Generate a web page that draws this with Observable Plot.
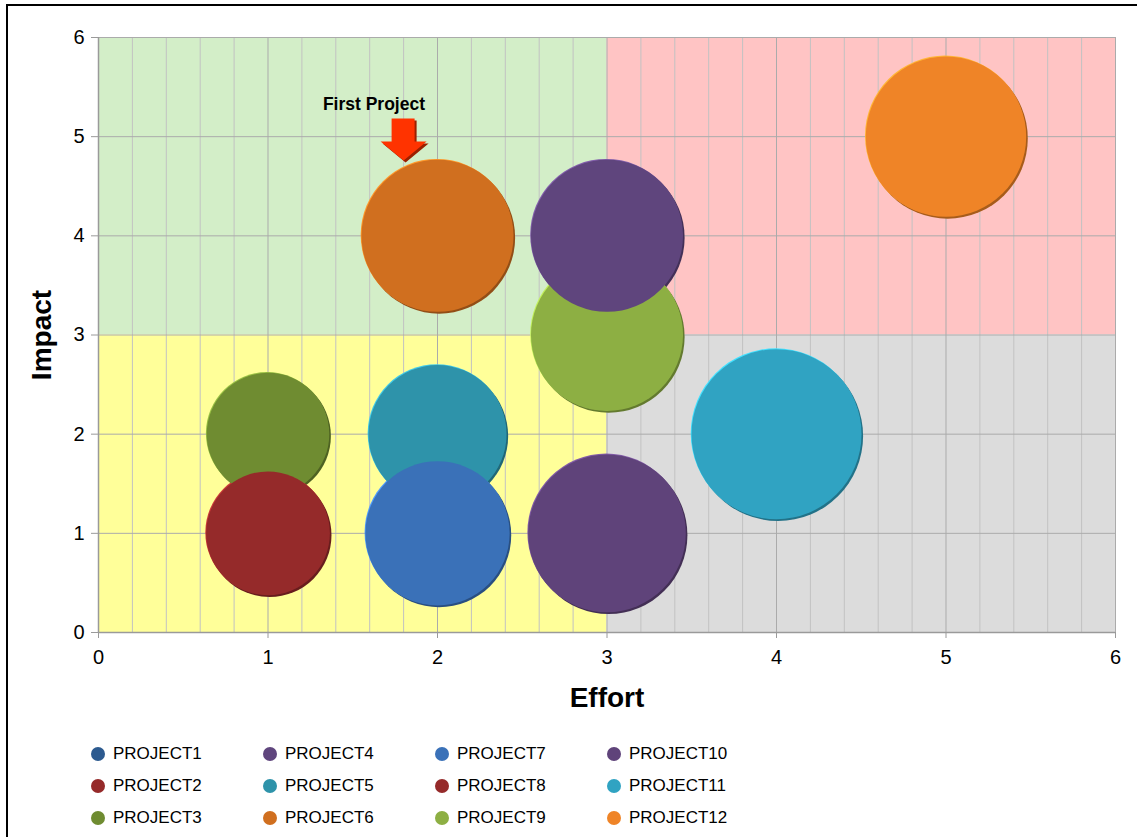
<!DOCTYPE html>
<html><head><meta charset="utf-8">
<script src="https://cdn.jsdelivr.net/npm/d3@7"></script>
<script src="https://cdn.jsdelivr.net/npm/@observablehq/plot@0.6"></script>
<style>
body{margin:0;background:#fff;font-family:"Liberation Sans",Arial,sans-serif;}
#frame{position:absolute;left:6px;top:4px;width:1131px;height:833px;border-left:2px solid #000;border-top:2px solid #000;box-sizing:border-box;}
#chart{position:absolute;left:0;top:0;}
#legend{position:absolute;left:91px;top:738px;display:grid;grid-template-rows:repeat(3,32px);grid-auto-flow:column;grid-auto-columns:172px;}
.item{display:flex;align-items:center;font-size:17px;color:#000;}
.sw{width:14px;height:14px;border-radius:50%;margin-right:8px;flex:none;}
#chart [aria-label="x-axis tick"] path,#chart [aria-label="y-axis tick"] path,#chart [aria-label="x-axis"] .tick line,#chart [aria-label="y-axis"] .tick line{stroke:#9a9a9a;}
</style></head><body>
<div id="frame"></div><div id="chart"></div><div id="legend"></div>
<script>
// legend series
const projects = ["PROJECT1","PROJECT2","PROJECT3","PROJECT4","PROJECT5","PROJECT6","PROJECT7","PROJECT8","PROJECT9","PROJECT10","PROJECT11","PROJECT12"];
const palette  = ["#2c5a8f","#952a2a","#6f8c31","#5f457d","#2e93aa","#d06f1f","#3a71b8","#952a2a","#8daf43","#5f437a","#30a3c2","#ef8427"];

// bubbles (in drawing order; PROJECT1 and PROJECT8 have no visible bubble)
const bubbleNames = ["PROJECT3","PROJECT2","PROJECT5","PROJECT7","PROJECT6","PROJECT9","PROJECT4","PROJECT10","PROJECT11","PROJECT12"];
const effort      = [1, 1, 2, 2, 2, 3, 3, 3, 4, 5];
const impact      = [2, 1, 2, 1, 4, 3, 4, 1, 2, 5];
const bubbleSize  = [5.2, 5.3, 6.6, 7.2, 8.0, 8.0, 8.0, 8.6, 10, 8.9];

// quadrants
const quadX1 = [0, 3, 0, 3];
const quadX2 = [3, 6, 3, 6];
const quadY1 = [3, 3, 0, 0];
const quadY2 = [6, 6, 3, 3];
const quadColor = ["#d3eec8", "#ffc4c4", "#ffff99", "#dcdcdc"];

// ticks / grid
const xTicks = [0, 1, 2, 3, 4, 5, 6];
const yTicks = [0, 1, 2, 3, 4, 5, 6];
const minorX = [0.2,0.4,0.6,0.8,1.2,1.4,1.6,1.8,2.2,2.4,2.6,2.8,3.2,3.4,3.6,3.8,4.2,4.4,4.6,4.8,5.2,5.4,5.6,5.8];

// annotation
const noteLabel = ["First Project"];
const noteX = [1.625];
const noteY = [5.33];
const arrowX = [1.8];
const arrowY = [4.76];

const colorOf = n => palette[projects.indexOf(n)];
const bubbles = bubbleNames.map((n, i) => ({name: n, x: effort[i], y: impact[i], s: bubbleSize[i]}));
const quads = quadX1.map((d, i) => ({x1: d, x2: quadX2[i], y1: quadY1[i], y2: quadY2[i], c: quadColor[i]}));
const notes = noteLabel.map((t, i) => ({t, x: noteX[i], y: noteY[i]}));
const arrows = arrowX.map((x, i) => ({x, y: arrowY[i]}));

const arrowSymbol = {
  draw(ctx) {
    ctx.moveTo(-12, -42); ctx.lineTo(11, -42); ctx.lineTo(11, -19);
    ctx.lineTo(23, -19); ctx.lineTo(0, 0); ctx.lineTo(-23, -19);
    ctx.lineTo(-12, -19); ctx.closePath();
  }
};

const rScale = {type: "sqrt", domain: [0, 10], range: [0, 85]};

const plot = Plot.plot({
  width: 1137,
  height: 720,
  marginLeft: 98,
  marginRight: 22,
  marginTop: 37,
  marginBottom: 88,
  style: {fontFamily: "'Liberation Sans', Arial, sans-serif", fontSize: "20px", background: "transparent", color: "#000"},
  x: {domain: [0, 6], ticks: xTicks, tickSize: 6, tickPadding: 11, label: null, tickFormat: d => d},
  y: {domain: [0, 6], ticks: yTicks, tickSize: 7, tickPadding: 7, label: null, tickFormat: d => d},
  r: rScale,
  color: {type: "identity"},
  marks: [
    Plot.rect(quads, {x1: "x1", x2: "x2", y1: "y1", y2: "y2", fill: "c"}),
    Plot.ruleX(minorX, {stroke: "#c2c2c2", strokeWidth: 1}),
    Plot.ruleX(xTicks, {stroke: "#ababab", strokeWidth: 1}),
    Plot.ruleY(yTicks, {stroke: "#ababab", strokeWidth: 1}),
    Plot.ruleX([0], {stroke: "#9a9a9a", strokeWidth: 1.5}),
    Plot.ruleY([0], {stroke: "#9a9a9a", strokeWidth: 1.5}),
    // bubble bevel: shadow, highlight, body (keep series drawing order)
    Plot.dot(bubbles, {x: "x", y: "y", r: "s", sort: null, dx: 1.6, dy: 1.8, fill: d => d3.color(colorOf(d.name)).darker(1).formatHex(), stroke: "none"}),
    Plot.dot(bubbles, {x: "x", y: "y", r: "s", sort: null, dx: -0.8, dy: -0.9, fill: d => d3.color(colorOf(d.name)).brighter(0.9).formatHex(), stroke: "none"}),
    Plot.dot(bubbles, {x: "x", y: "y", r: "s", sort: null, fill: d => colorOf(d.name), stroke: "none"}),
    // annotation
    Plot.dot(arrows, {x: "x", y: "y", symbol: arrowSymbol, r: 5, dx: 2, dy: 2, fill: "#9a2000", stroke: "none"}),
    Plot.dot(arrows, {x: "x", y: "y", symbol: arrowSymbol, r: 5, fill: "#ff3300", stroke: "none"}),
    Plot.text(notes, {x: "x", y: "y", text: "t", fontSize: 17.5, fontWeight: "bold", fill: "#000"}),
    // axis titles
    Plot.text(["Impact"], {frameAnchor: "left", textAnchor: "middle", lineAnchor: "middle", dx: -56, rotate: -90, fontSize: 28, fontWeight: "bold", fill: "#000"}),
    Plot.text(["Effort"], {frameAnchor: "bottom", textAnchor: "middle", lineAnchor: "middle", dy: 66, fontSize: 28, fontWeight: "bold", fill: "#000"})
  ]
});
document.getElementById("chart").appendChild(plot);

const legend = document.getElementById("legend");
projects.forEach((p, i) => {
  const item = document.createElement("div");
  item.className = "item";
  const sw = document.createElement("span");
  sw.className = "sw";
  sw.style.background = palette[i];
  const label = document.createElement("span");
  label.textContent = p;
  item.appendChild(sw); item.appendChild(label);
  legend.appendChild(item);
});
</script>
</body></html>
